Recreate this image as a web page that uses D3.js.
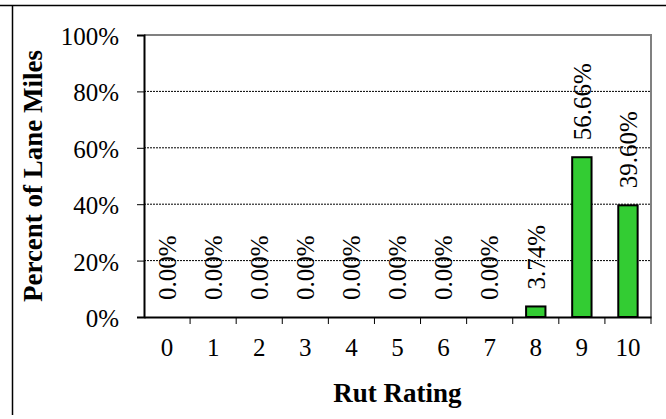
<!DOCTYPE html>
<html>
<head>
<meta charset="utf-8">
<script src="https://cdn.jsdelivr.net/npm/d3@7"></script>
<style>
  body { margin: 0; background: #fff; }
</style>
</head>
<body>
<div id="chart"></div>
<script>
var ratings = ["0", "1", "2", "3", "4", "5", "6", "7", "8", "9", "10"];
var percents = [0, 0, 0, 0, 0, 0, 0, 0, 3.74, 56.66, 39.60];
var yTicks = [0, 20, 40, 60, 80, 100];

var serif = "'Liberation Serif', 'Times New Roman', serif";
var width = 666, height = 419;
var margin = {top: 35, right: 15, bottom: 102, left: 144};

var svg = d3.select("#chart").append("svg")
    .attr("width", width)
    .attr("height", height)
    .style("display", "block")
    .attr("font-family", serif);

// outer frame (only top and left edges show)
svg.append("line").attr("x1", 0).attr("x2", width).attr("y1", 5.5).attr("y2", 5.5)
    .attr("stroke", "#000").attr("stroke-width", 1.5);
svg.append("line").attr("x1", 12.5).attr("x2", 12.5).attr("y1", 5).attr("y2", 415)
    .attr("stroke", "#000").attr("stroke-width", 1.5);

var x = d3.scaleBand()
    .domain(ratings)
    .range([margin.left, width - margin.right]);

var y = d3.scaleLinear()
    .domain([0, 100])
    .range([height - margin.bottom, margin.top]);

// gridlines
svg.append("g")
    .selectAll("line")
    .data(yTicks.filter(d => d > 0 && d < 100))
    .enter().append("line")
    .attr("x1", margin.left).attr("x2", width - margin.right)
    .attr("y1", d => y(d)).attr("y2", d => y(d))
    .attr("stroke", "#000")
    .attr("stroke-width", 1)
    .attr("stroke-dasharray", "2,1");

// plot border top/right in grey
svg.append("path")
    .attr("d", "M" + margin.left + "," + y(100) + "H" + (width - margin.right) + "V" + y(0))
    .attr("fill", "none")
    .attr("stroke", "#808080")
    .attr("stroke-width", 2);

// bars
svg.append("g")
    .selectAll("rect")
    .data(ratings.map((r, i) => ({r: r, v: percents[i]})).filter(d => d.v > 0))
    .enter().append("rect")
    .attr("x", d => x(d.r) + x.bandwidth() * 0.29)
    .attr("width", x.bandwidth() * 0.42)
    .attr("y", d => y(d.v))
    .attr("height", d => y(0) - y(d.v))
    .attr("fill", "#33cc33")
    .attr("stroke", "#000")
    .attr("stroke-width", 2);

// data labels
svg.append("g")
    .attr("font-family", serif)
    .attr("font-size", 25)
    .selectAll("text")
    .data(percents)
    .enter().append("text")
    .attr("transform", (d, i) => "translate(" + (x(ratings[i]) + x.bandwidth() / 2) + "," + (y(d) - 17) + ") rotate(-90)")
    .attr("dy", "0.35em")
    .attr("text-anchor", "start")
    .text(d => d.toFixed(2) + "%");

// y axis
var yAxis = svg.append("g")
    .attr("transform", "translate(" + margin.left + ",0)")
    .call(d3.axisLeft(y).tickValues(yTicks).tickFormat(d => d + "%").tickSize(7).tickPadding(18));
yAxis.select(".domain").attr("stroke", "#000").attr("stroke-width", 2);
yAxis.selectAll(".tick line").attr("stroke-width", 1);
yAxis.selectAll("text")
    .attr("font-family", serif)
    .attr("font-size", 25)
    .attr("dy", "0.38em")
    .attr("fill", "#000");

// x axis
var xAxis = svg.append("g")
    .attr("transform", "translate(0," + y(0) + ")")
    .call(d3.axisBottom(x).tickSize(0).tickPadding(21));
xAxis.select(".domain").attr("stroke", "#000").attr("stroke-width", 2);
xAxis.selectAll("text")
    .attr("font-family", serif)
    .attr("font-size", 25)
    .attr("fill", "#000");

// x category boundary ticks
svg.append("g")
    .selectAll("line")
    .data(ratings.slice(1).concat(["end"]))
    .enter().append("line")
    .attr("x1", d => d === "end" ? x.range()[1] : x(d))
    .attr("x2", d => d === "end" ? x.range()[1] : x(d))
    .attr("y1", y(0))
    .attr("y2", y(0) + 7)
    .attr("stroke", "#000")
    .attr("stroke-width", 1);

// axis titles
svg.append("text")
    .attr("transform", "translate(33," + ((y(0) + y(100)) / 2) + ") rotate(-90)")
    .attr("text-anchor", "middle")
    .attr("dy", "0.35em")
    .attr("font-size", 27)
    .attr("font-weight", "bold")
    .text("Percent of Lane Miles");

svg.append("text")
    .attr("x", (x.range()[0] + x.range()[1]) / 2)
    .attr("y", 402)
    .attr("text-anchor", "middle")
    .attr("font-size", 27)
    .attr("font-weight", "bold")
    .text("Rut Rating");
</script>
</body>
</html>
